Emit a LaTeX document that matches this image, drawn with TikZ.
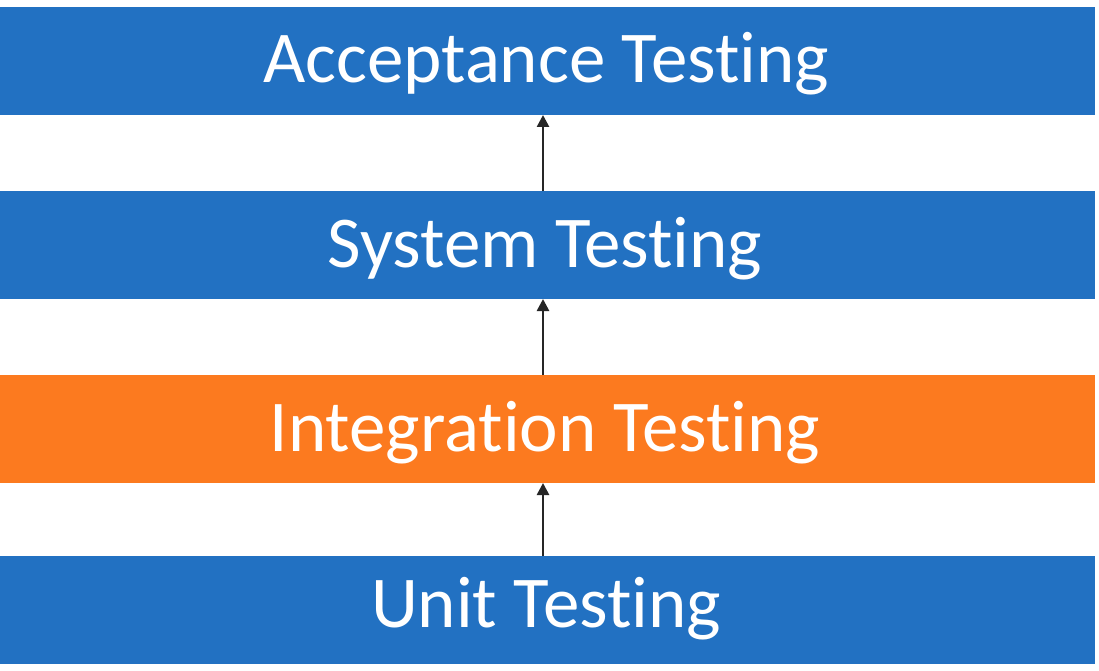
\documentclass[tikz,border=0pt]{standalone}
\usepackage{fontspec}
\setmainfont[Ligatures={NoCommon}]{Carlito}
\usetikzlibrary{arrows.meta}
\definecolor{bandblue}{RGB}{34,113,194}
\definecolor{bandorange}{RGB}{252,122,31}
\begin{document}
\begin{tikzpicture}[x=1pt,y=-1pt,
  band/.style={draw=none, fill=#1, minimum width=1095pt, minimum height=108pt, anchor=north west, inner sep=0pt, outer sep=0pt},
  lbl/.style={text=white, font=\fontsize{73}{80}\selectfont, anchor=base},
  up/.style={-{Triangle[length=12pt,width=12pt]}, line width=2.6pt, black!85}]
\useasboundingbox[fill=white] (0,0) rectangle (1099,671);
\node[band=bandblue] (acc) at (0,7) {};
\node[band=bandblue] (sys) at (0,191) {};
\node[band=bandorange] (int) at (0,375) {};
\node[band=bandblue] (unit) at (0,556) {};
\node[lbl] (tacc) at (546,83) {Acceptance Testing};
\node[lbl] (tsys) at (545,267) {System Testing};
\node[lbl] (tint) at (545,451) {Integration Testing};
\node[lbl] (tunit) at (546,627) {Unit Testing};
\draw[up] (sys.north west -| 543,0) -- (acc.south west -| 543,0);
\draw[up] (int.north west -| 543,0) -- (sys.south west -| 543,0);
\draw[up] (unit.north west -| 543,0) -- (int.south west -| 543,0);
\end{tikzpicture}
\end{document}
